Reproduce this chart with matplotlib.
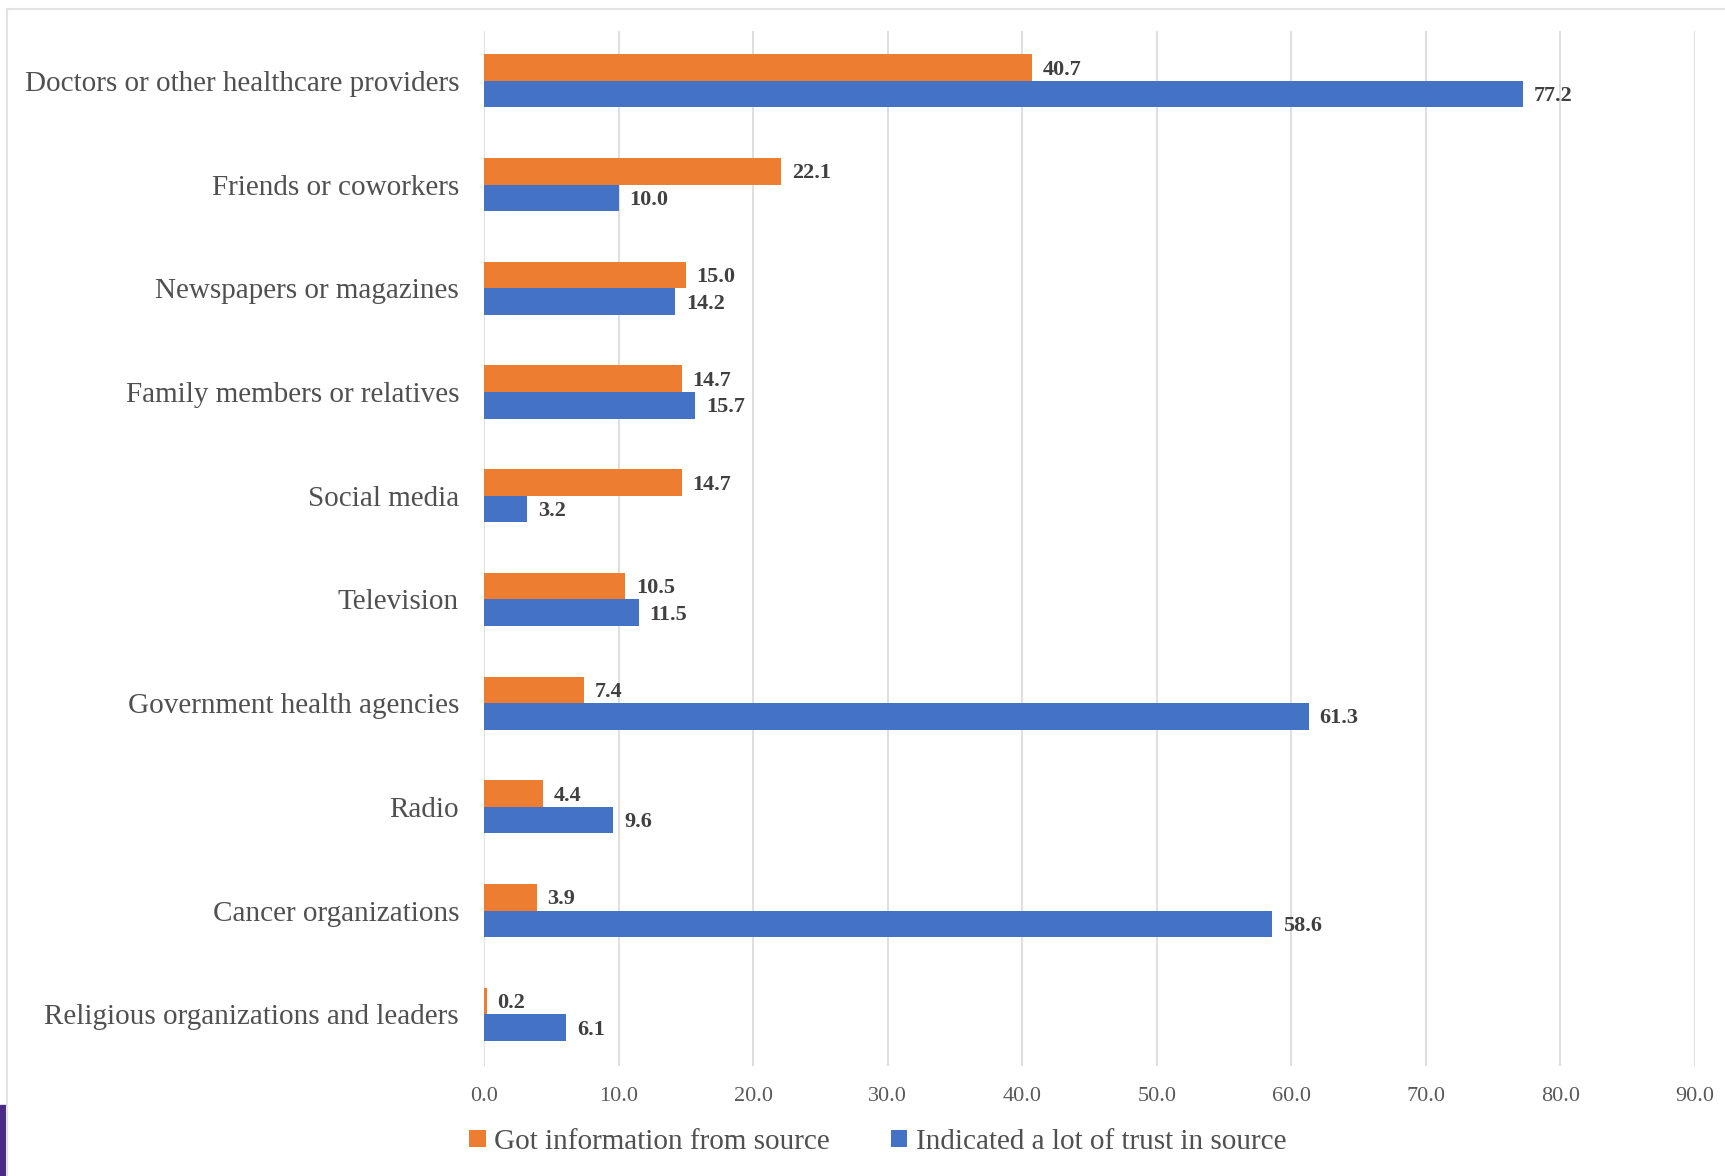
import matplotlib
matplotlib.use("Agg")
import matplotlib.pyplot as plt
from matplotlib.lines import Line2D
from matplotlib.patches import Rectangle, Patch
import numpy as np

categories = [
    "Doctors or other healthcare providers",
    "Friends or coworkers",
    "Newspapers or magazines",
    "Family members or relatives",
    "Social media",
    "Television",
    "Government health agencies",
    "Radio",
    "Cancer organizations",
    "Religious organizations and leaders",
]
got_info = [40.7, 22.1, 15.0, 14.7, 14.7, 10.5, 7.4, 4.4, 3.9, 0.2]
trust = [77.2, 10.0, 14.2, 15.7, 3.2, 11.5, 61.3, 9.6, 58.6, 6.1]
series_names = ["Got information from source", "Indicated a lot of trust in source"]
x_ticks = [0, 10, 20, 30, 40, 50, 60, 70, 80, 90]

ORANGE = "#ED7D31"
BLUE = "#4472C4"
SERIF = ["Liberation Serif", "DejaVu Serif"]

fig = plt.figure(figsize=(17.25, 11.76), dpi=100)
ax = fig.add_axes([0.2806, 0.0935, 0.702, 0.880])

y = np.arange(len(categories))
h = 0.256
ax.barh(y - h / 2, got_info, height=h, color=ORANGE, zorder=3)
ax.barh(y + h / 2, trust, height=h, color=BLUE, zorder=3)

for yi, v in zip(y, got_info):
    ax.text(v + 0.8, yi - h / 2 + 0.02, f"{v:.1f}", va="center", ha="left",
            fontsize=16, fontweight="bold", color="#404040", family=SERIF)
for yi, v in zip(y, trust):
    ax.text(v + 0.8, yi + h / 2 + 0.02, f"{v:.1f}", va="center", ha="left",
            fontsize=16, fontweight="bold", color="#404040", family=SERIF)

ax.set_xlim(0, 90)
ax.set_ylim(9.5, -0.48)
ax.set_xticks(x_ticks)
ax.set_xticklabels([f"{t:.1f}" for t in x_ticks], family=SERIF, fontsize=16, color="#595959")
ax.set_yticks(y)
ax.set_yticklabels(categories, family=SERIF, fontsize=21, color="#505050")
ax.tick_params(axis="both", length=0)
ax.tick_params(axis="x", pad=15)
ax.tick_params(axis="y", pad=18)
ax.grid(axis="x", color="#D9D9D9", linewidth=1.2, zorder=0)
for s in ax.spines.values():
    s.set_visible(False)

handles = [Patch(facecolor=ORANGE), Patch(facecolor=BLUE)]
fig.legend(handles, series_names, loc="center", bbox_to_anchor=(0.509, 0.029), ncol=2,
           frameon=False, prop={"family": SERIF, "size": 21}, handlelength=0.55,
           handleheight=0.55, handletextpad=0.3, columnspacing=2.1, labelcolor="#505050")

# surrounding frame and accent strip
fig.add_artist(Line2D([7 / 1725, 1.0], [1 - 9 / 1176, 1 - 9 / 1176], color="#E3E3E3", linewidth=1.5))
fig.add_artist(Line2D([7 / 1725, 7 / 1725], [1 - 9 / 1176, 0.0], color="#E3E3E3", linewidth=1.5))
fig.add_artist(Rectangle((0, 0), 6 / 1725, 71 / 1176, color="#4B2A86", transform=fig.transFigure))

fig.savefig("out.png", dpi=100)
